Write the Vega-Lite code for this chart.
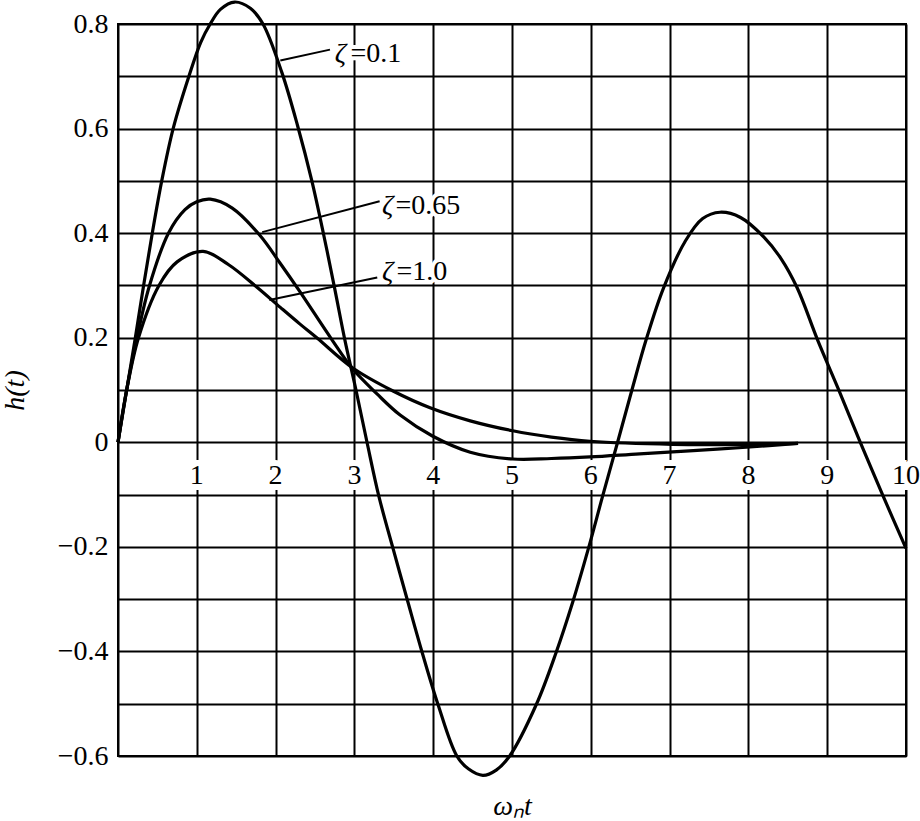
{
  "$schema": "https://vega.github.io/schema/vega-lite/v6.json",
  "width": 788,
  "height": 732,
  "autosize": {"type": "none"},
  "padding": {"left": 118, "top": 24, "right": 14, "bottom": 65},
  "background": "white",
  "config": {
    "view": {"stroke": "black", "strokeWidth": 2},
    "font": "Liberation Serif",
    "axis": {
      "labelFont": "Liberation Serif", "titleFont": "Liberation Serif",
      "labelFontSize": 28, "titleFontSize": 28, "labelColor": "black", "titleColor": "black",
      "titleFontWeight": "normal", "titleFontStyle": "italic"
    },
    "text": {"font": "Liberation Serif"}
  },
  "datasets": {
    "curves": [
      {"zeta": "0.1", "t": 0, "h": 0},
      {"zeta": "0.1", "t": 0.11, "h": 0.1},
      {"zeta": "0.1", "t": 0.22, "h": 0.2},
      {"zeta": "0.1", "t": 0.325, "h": 0.3},
      {"zeta": "0.1", "t": 0.435, "h": 0.4},
      {"zeta": "0.1", "t": 0.555, "h": 0.5},
      {"zeta": "0.1", "t": 0.7, "h": 0.6},
      {"zeta": "0.1", "t": 0.9, "h": 0.7},
      {"zeta": "0.1", "t": 1.05, "h": 0.765},
      {"zeta": "0.1", "t": 1.17, "h": 0.8},
      {"zeta": "0.1", "t": 1.3, "h": 0.828},
      {"zeta": "0.1", "t": 1.48, "h": 0.842},
      {"zeta": "0.1", "t": 1.68, "h": 0.83},
      {"zeta": "0.1", "t": 1.84, "h": 0.8},
      {"zeta": "0.1", "t": 2.08, "h": 0.707},
      {"zeta": "0.1", "t": 2.28, "h": 0.605},
      {"zeta": "0.1", "t": 2.46, "h": 0.5},
      {"zeta": "0.1", "t": 2.61, "h": 0.397},
      {"zeta": "0.1", "t": 2.75, "h": 0.294},
      {"zeta": "0.1", "t": 2.88, "h": 0.195},
      {"zeta": "0.1", "t": 3.02, "h": 0.1},
      {"zeta": "0.1", "t": 3.16, "h": 0},
      {"zeta": "0.1", "t": 3.31, "h": -0.103},
      {"zeta": "0.1", "t": 3.49, "h": -0.203},
      {"zeta": "0.1", "t": 3.68, "h": -0.306},
      {"zeta": "0.1", "t": 3.86, "h": -0.402},
      {"zeta": "0.1", "t": 4.06, "h": -0.501},
      {"zeta": "0.1", "t": 4.3, "h": -0.6},
      {"zeta": "0.1", "t": 4.45, "h": -0.625},
      {"zeta": "0.1", "t": 4.63, "h": -0.637},
      {"zeta": "0.1", "t": 4.8, "h": -0.627},
      {"zeta": "0.1", "t": 4.97, "h": -0.6},
      {"zeta": "0.1", "t": 5.31, "h": -0.501},
      {"zeta": "0.1", "t": 5.56, "h": -0.402},
      {"zeta": "0.1", "t": 5.77, "h": -0.306},
      {"zeta": "0.1", "t": 5.97, "h": -0.203},
      {"zeta": "0.1", "t": 6.15, "h": -0.103},
      {"zeta": "0.1", "t": 6.34, "h": 0},
      {"zeta": "0.1", "t": 6.52, "h": 0.099},
      {"zeta": "0.1", "t": 6.7, "h": 0.195},
      {"zeta": "0.1", "t": 6.92, "h": 0.294},
      {"zeta": "0.1", "t": 7.2, "h": 0.385},
      {"zeta": "0.1", "t": 7.42, "h": 0.428},
      {"zeta": "0.1", "t": 7.64, "h": 0.44},
      {"zeta": "0.1", "t": 7.9, "h": 0.43},
      {"zeta": "0.1", "t": 8.2, "h": 0.392},
      {"zeta": "0.1", "t": 8.42, "h": 0.35},
      {"zeta": "0.1", "t": 8.62, "h": 0.295},
      {"zeta": "0.1", "t": 8.88, "h": 0.195},
      {"zeta": "0.1", "t": 9.15, "h": 0.099},
      {"zeta": "0.1", "t": 9.42, "h": 0},
      {"zeta": "0.1", "t": 9.71, "h": -0.103},
      {"zeta": "0.1", "t": 10, "h": -0.203},
      {"zeta": "0.65", "t": 0, "h": 0},
      {"zeta": "0.65", "t": 0.11, "h": 0.1},
      {"zeta": "0.65", "t": 0.24, "h": 0.2},
      {"zeta": "0.65", "t": 0.4, "h": 0.3},
      {"zeta": "0.65", "t": 0.64, "h": 0.4},
      {"zeta": "0.65", "t": 0.85, "h": 0.445},
      {"zeta": "0.65", "t": 1.0, "h": 0.46},
      {"zeta": "0.65", "t": 1.17, "h": 0.465},
      {"zeta": "0.65", "t": 1.45, "h": 0.448},
      {"zeta": "0.65", "t": 1.8, "h": 0.396},
      {"zeta": "0.65", "t": 2.06, "h": 0.342},
      {"zeta": "0.65", "t": 2.3, "h": 0.29},
      {"zeta": "0.65", "t": 2.72, "h": 0.195},
      {"zeta": "0.65", "t": 2.98, "h": 0.14},
      {"zeta": "0.65", "t": 3.29, "h": 0.092},
      {"zeta": "0.65", "t": 3.58, "h": 0.052},
      {"zeta": "0.65", "t": 3.99, "h": 0.012},
      {"zeta": "0.65", "t": 4.47, "h": -0.019},
      {"zeta": "0.65", "t": 5.01, "h": -0.032},
      {"zeta": "0.65", "t": 5.5, "h": -0.031},
      {"zeta": "0.65", "t": 5.99, "h": -0.028},
      {"zeta": "0.65", "t": 6.62, "h": -0.022},
      {"zeta": "0.65", "t": 7.3, "h": -0.016},
      {"zeta": "0.65", "t": 8.02, "h": -0.009},
      {"zeta": "0.65", "t": 8.63, "h": -0.002},
      {"zeta": "1.0", "t": 0, "h": 0},
      {"zeta": "1.0", "t": 0.11, "h": 0.1},
      {"zeta": "1.0", "t": 0.26, "h": 0.2},
      {"zeta": "1.0", "t": 0.52, "h": 0.3},
      {"zeta": "1.0", "t": 0.75, "h": 0.345},
      {"zeta": "1.0", "t": 1.08, "h": 0.365},
      {"zeta": "1.0", "t": 1.4, "h": 0.34},
      {"zeta": "1.0", "t": 1.76, "h": 0.297},
      {"zeta": "1.0", "t": 2.06, "h": 0.258},
      {"zeta": "1.0", "t": 2.31, "h": 0.226},
      {"zeta": "1.0", "t": 2.53, "h": 0.199},
      {"zeta": "1.0", "t": 2.98, "h": 0.142},
      {"zeta": "1.0", "t": 3.49, "h": 0.098},
      {"zeta": "1.0", "t": 3.96, "h": 0.066},
      {"zeta": "1.0", "t": 4.47, "h": 0.041},
      {"zeta": "1.0", "t": 5.01, "h": 0.022},
      {"zeta": "1.0", "t": 5.5, "h": 0.01},
      {"zeta": "1.0", "t": 5.99, "h": 0.002},
      {"zeta": "1.0", "t": 7.04, "h": -0.004},
      {"zeta": "1.0", "t": 8.02, "h": -0.004},
      {"zeta": "1.0", "t": 8.63, "h": -0.002}
    ],
    "ticks": [
      {"t": 1, "label": "1"}, {"t": 2, "label": "2"}, {"t": 3, "label": "3"},
      {"t": 4, "label": "4"}, {"t": 5, "label": "5"}, {"t": 6, "label": "6"},
      {"t": 7, "label": "7"}, {"t": 8, "label": "8"}, {"t": 9, "label": "9"},
      {"t": 10, "label": "10"}
    ],
    "leaders": [
      {"t": 2.06, "h": 0.73, "t2": 2.69, "h2": 0.751},
      {"t": 1.83, "h": 0.402, "t2": 3.32, "h2": 0.461},
      {"t": 1.92, "h": 0.272, "t2": 3.29, "h2": 0.315}
    ],
    "zetas": [
      {"t": 2.75, "h": 0.727, "text": "ζ"},
      {"t": 3.35, "h": 0.436, "text": "ζ"},
      {"t": 3.35, "h": 0.31, "text": "ζ"}
    ],
    "values": [
      {"t": 2.95, "h": 0.727, "text": "=0.1"},
      {"t": 3.52, "h": 0.436, "text": "=0.65"},
      {"t": 3.535, "h": 0.31, "text": "=1.0"}
    ]
  },
  "layer": [
    {
      "data": {"name": "ticks"},
      "mark": {"type": "text", "font": "Liberation Serif", "fontSize": 28, "align": "center", "baseline": "middle", "stroke": "white", "strokeWidth": 12, "fill": "white"},
      "encoding": {
        "x": {
          "field": "t", "type": "quantitative",
          "scale": {"domain": [0, 10], "nice": false, "zero": false},
          "axis": {
            "values": [0, 1, 2, 3, 4, 5, 6, 7, 8, 9, 10],
            "labels": false, "ticks": false, "domain": false,
            "grid": true, "gridColor": "black", "gridWidth": 2, "gridOpacity": 1,
            "title": "ωₙt", "titleFont": "Liberation Serif", "titleFontSize": 28,
            "titleFontStyle": "italic", "titleFontWeight": "normal", "titleColor": "black",
            "titlePadding": 36
          }
        },
        "y": {
          "datum": -0.065, "type": "quantitative",
          "scale": {"domain": [-0.6, 0.8], "nice": false, "zero": false},
          "axis": {
            "values": [-0.6, -0.5, -0.4, -0.3, -0.2, -0.1, 0, 0.1, 0.2, 0.3, 0.4, 0.5, 0.6, 0.7, 0.8],
            "labelExpr": "abs(round(datum.value * 10)) % 2 == 1 ? '' : (datum.value == 0 ? '0' : format(datum.value, '.1f'))",
            "ticks": false, "domain": false,
            "grid": true, "gridColor": "black", "gridWidth": 2, "gridOpacity": 1,
            "labelFont": "Liberation Serif", "labelFontSize": 28, "labelColor": "black",
            "labelPadding": 10, "labelFlush": false, "labelOverlap": false, "labelBaseline": "middle",
            "title": "h(t)", "titleFont": "Liberation Serif", "titleFontSize": 28,
            "titleFontStyle": "italic", "titleFontWeight": "normal", "titleColor": "black",
            "titlePadding": 28
          }
        },
        "text": {"field": "label"}
      }
    },
    {
      "data": {"name": "values"},
      "mark": {"type": "text", "font": "Liberation Serif", "fontSize": 28, "align": "left", "baseline": "alphabetic", "stroke": "white", "strokeWidth": 8, "fill": "white"},
      "encoding": {
        "x": {"field": "t", "type": "quantitative", "scale": {"domain": [0, 10], "nice": false, "zero": false}},
        "y": {"field": "h", "type": "quantitative", "scale": {"domain": [-0.6, 0.8], "nice": false, "zero": false}},
        "text": {"field": "text"}
      }
    },
    {
      "data": {"name": "curves"},
      "mark": {"type": "line", "color": "black", "strokeWidth": 3.2, "interpolate": "catmull-rom", "clip": false},
      "encoding": {
        "x": {"field": "t", "type": "quantitative", "scale": {"domain": [0, 10], "nice": false, "zero": false}},
        "y": {"field": "h", "type": "quantitative", "scale": {"domain": [-0.6, 0.8], "nice": false, "zero": false}},
        "detail": {"field": "zeta"}
      }
    },
    {
      "data": {"name": "leaders"},
      "mark": {"type": "rule", "color": "black", "strokeWidth": 2},
      "encoding": {
        "x": {"field": "t", "type": "quantitative", "scale": {"domain": [0, 10], "nice": false, "zero": false}},
        "y": {"field": "h", "type": "quantitative", "scale": {"domain": [-0.6, 0.8], "nice": false, "zero": false}},
        "x2": {"field": "t2"},
        "y2": {"field": "h2"}
      }
    },
    {
      "data": {"name": "ticks"},
      "mark": {"type": "text", "font": "Liberation Serif", "fontSize": 28, "align": "center", "baseline": "middle", "color": "black"},
      "encoding": {
        "x": {"field": "t", "type": "quantitative", "scale": {"domain": [0, 10], "nice": false, "zero": false}},
        "y": {"datum": -0.065, "type": "quantitative", "scale": {"domain": [-0.6, 0.8], "nice": false, "zero": false}},
        "text": {"field": "label"}
      }
    },
    {
      "data": {"name": "zetas"},
      "mark": {"type": "text", "font": "Liberation Serif", "fontSize": 28, "fontStyle": "italic", "align": "left", "baseline": "alphabetic", "color": "black"},
      "encoding": {
        "x": {"field": "t", "type": "quantitative", "scale": {"domain": [0, 10], "nice": false, "zero": false}},
        "y": {"field": "h", "type": "quantitative", "scale": {"domain": [-0.6, 0.8], "nice": false, "zero": false}},
        "text": {"field": "text"}
      }
    },
    {
      "data": {"name": "values"},
      "mark": {"type": "text", "font": "Liberation Serif", "fontSize": 28, "align": "left", "baseline": "alphabetic", "color": "black"},
      "encoding": {
        "x": {"field": "t", "type": "quantitative", "scale": {"domain": [0, 10], "nice": false, "zero": false}},
        "y": {"field": "h", "type": "quantitative", "scale": {"domain": [-0.6, 0.8], "nice": false, "zero": false}},
        "text": {"field": "text"}
      }
    }
  ]
}
